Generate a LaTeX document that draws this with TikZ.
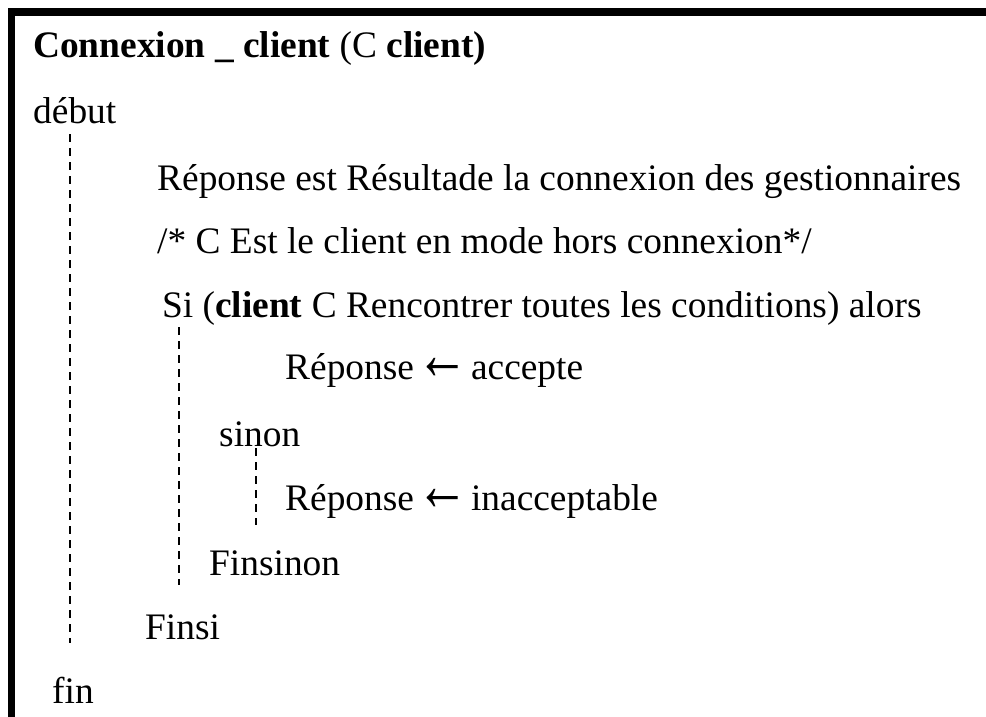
\documentclass[tikz,border=0pt]{standalone}
\usepackage{fontspec}
\setmainfont{Liberation Serif}
\usepackage{tikz}
\usetikzlibrary{calc}

\newcommand{\recoit}{\hspace{-7pt} \scalebox{1.4}[2]{\textbf{←}}\hspace{-7pt} }

\begin{document}
\begin{tikzpicture}[x=1pt, y=-1pt,
  ligne/.style={anchor=base west, inner sep=0pt, font=\fontsize{37.4}{45}\selectfont},
  guide/.style={dash pattern=on 7.5pt off 6.5pt, line width=2pt}
  ]
  \useasboundingbox (0,0) rectangle (986,717);
  \draw[line width=7.5pt, line join=miter] (11.5,717) -- (11.5,12) -- (986,12);
  \node[ligne] (titre) at (33,58) {\textbf{Connexion \_ client} (C \textbf{client)}};
  \node[ligne] (debut) at (33,124) {début};
  \node[ligne] (reponse) at (157,190) {Réponse est Résultade la connexion des gestionnaires};
  \node[ligne] (comment) at (157,253) {/* C Est le client en mode hors connexion*/};
  \node[ligne] (si) at (162,317) {Si (\textbf{client} C Rencontrer toutes les conditions) alors};
  \node[ligne] (accepte) at (285,379) {Réponse\recoit accepte};
  \node[ligne] (sinon) at (219,446) {sinon};
  \node[ligne] (refus) at (285,510) {Réponse\recoit inacceptable};
  \node[ligne] (finsinon) at (209,575) {Finsinon};
  \node[ligne] (finsi) at (145,639) {Finsi};
  \node[ligne] (fin) at (52,703) {fin};
  \coordinate (d0) at ([shift={(37,10)}]debut.base west);
  \coordinate (s0) at ([shift={(17,10)}]si.base west);
  \coordinate (n0) at ([shift={(37,2)}]sinon.base west);
  \draw[guide] (d0) -- ($(d0 |- finsi.base)+(0,4)$);
  \draw[guide] (s0) -- ($(s0 |- finsinon.base)+(0,10)$);
  \draw[guide] (n0) -- ($(n0 |- refus.base)+(0,15)$);
\end{tikzpicture}
\end{document}
